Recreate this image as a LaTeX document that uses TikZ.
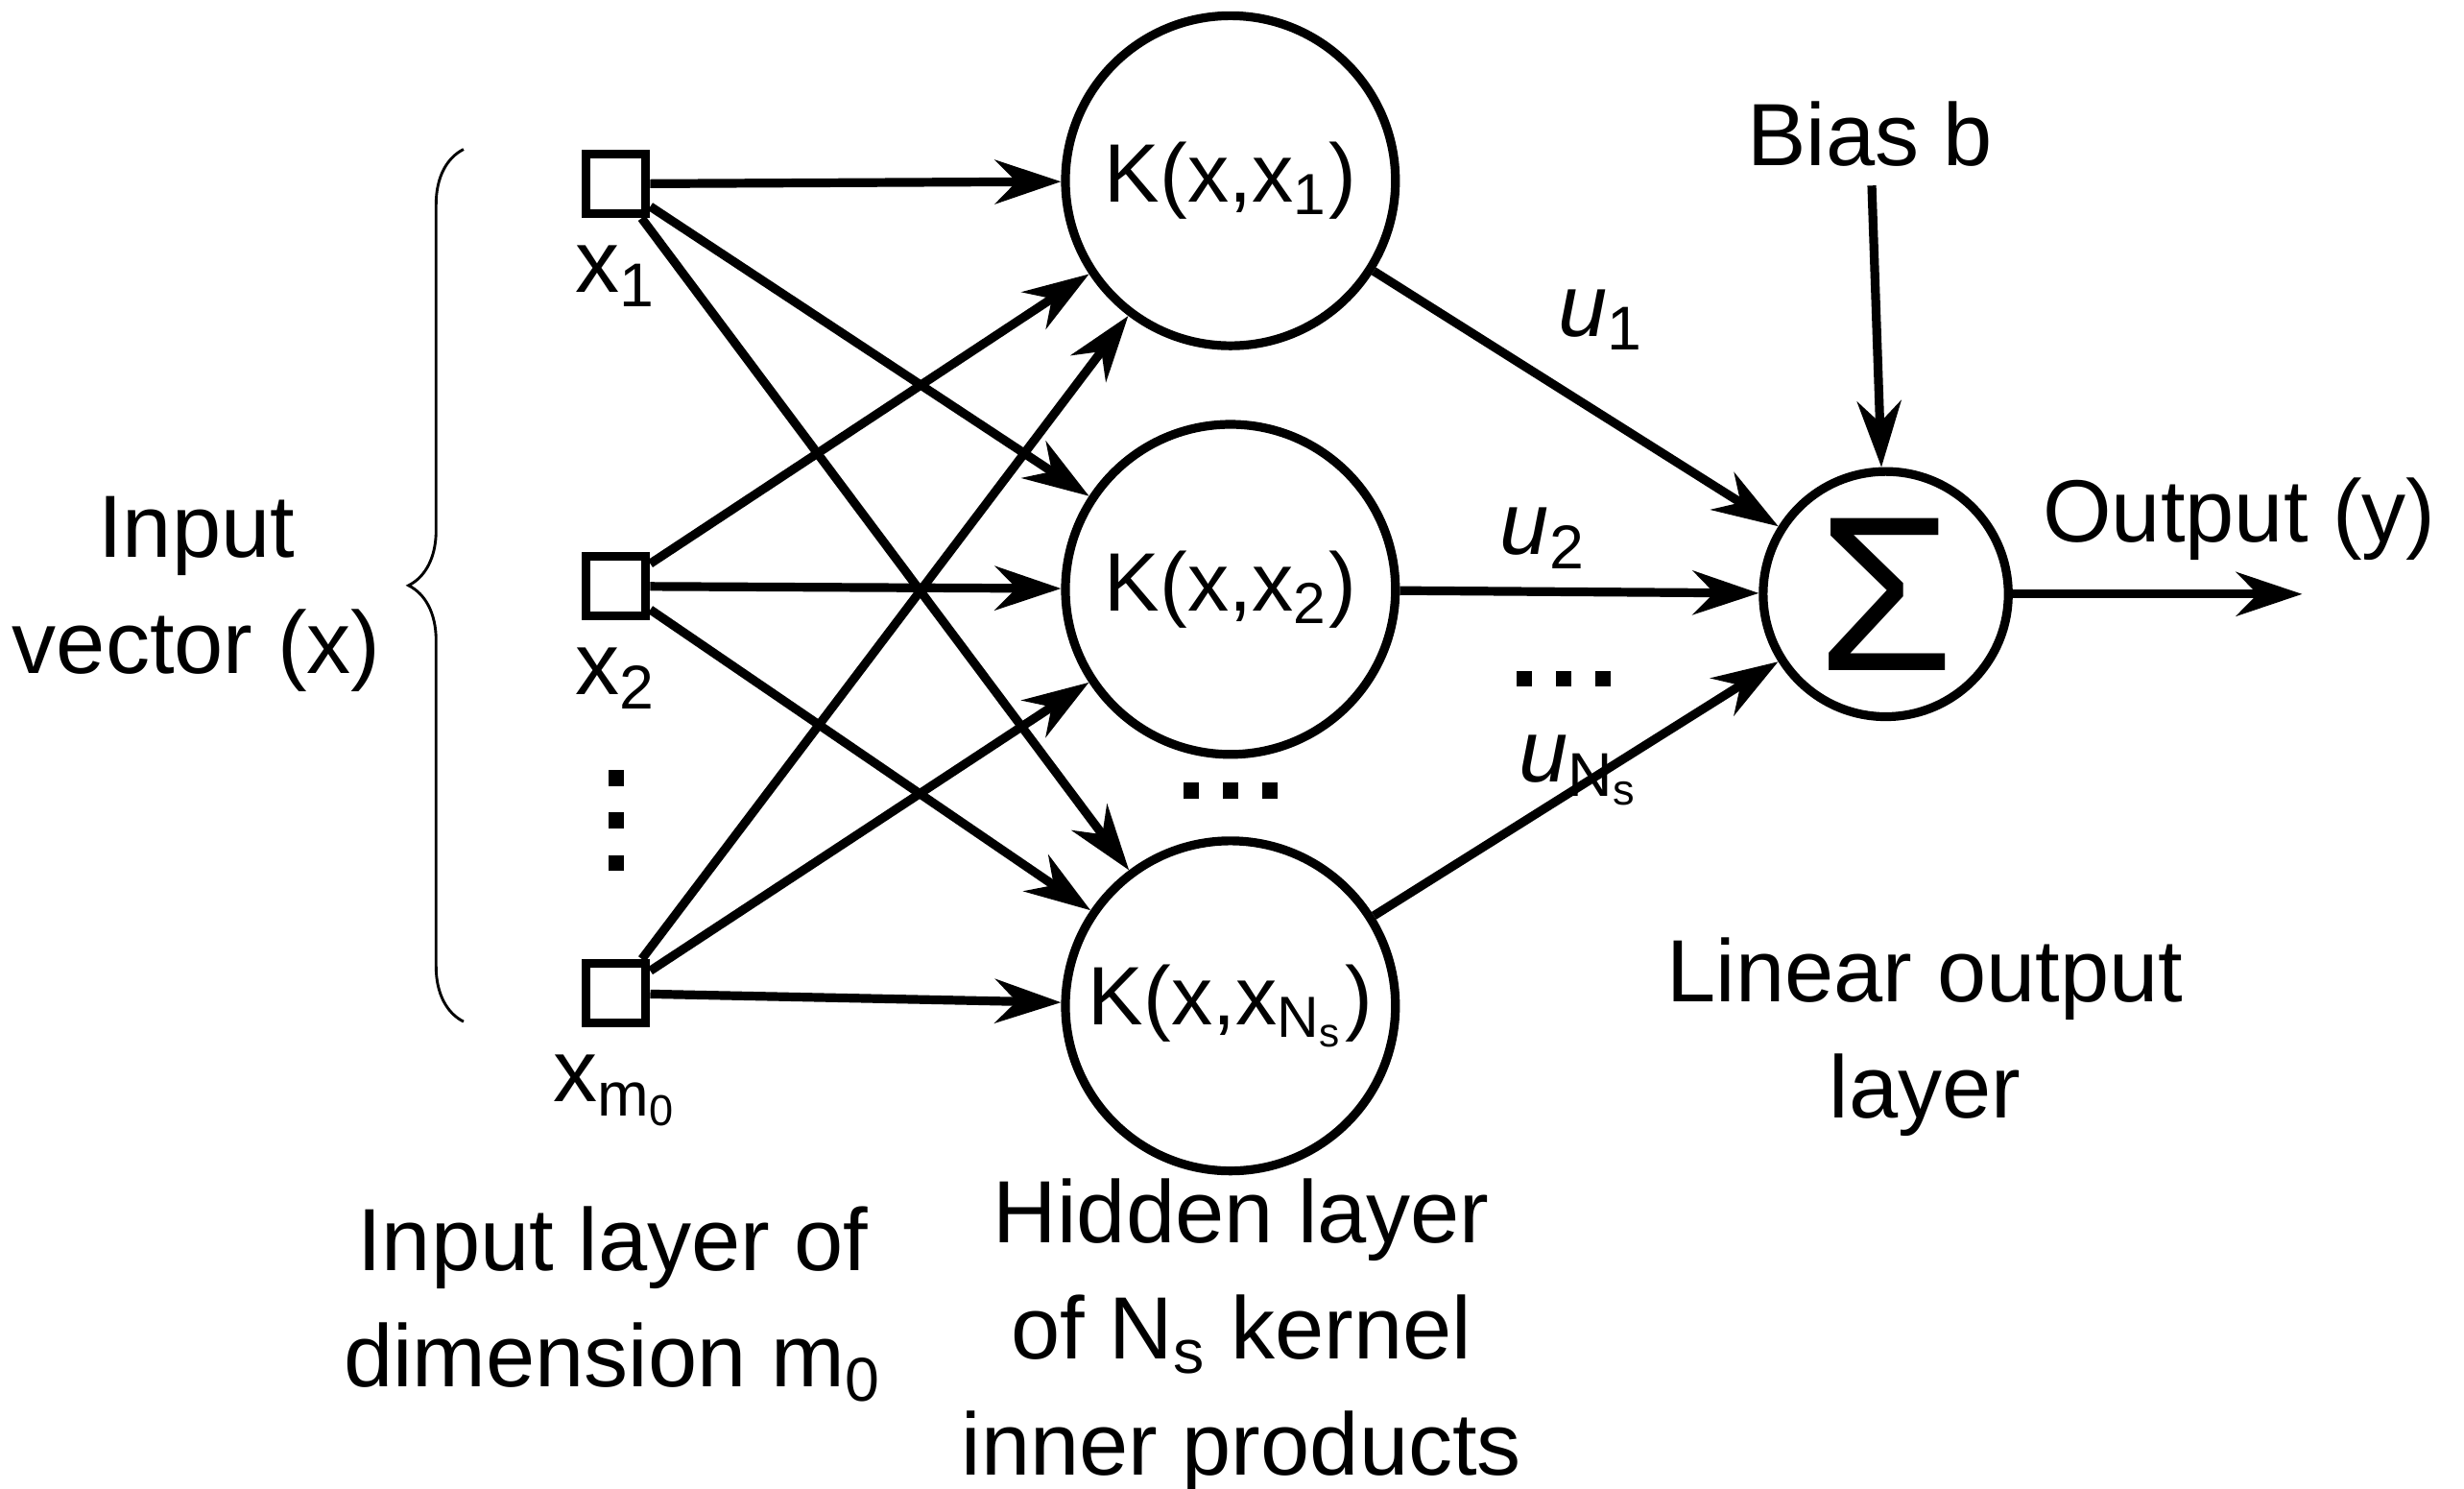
\documentclass[tikz,border=0pt]{standalone}
\usepackage{fontspec}
\setmainfont{Liberation Sans}
\usetikzlibrary{arrows.meta,positioning,decorations.pathreplacing}
\tikzset{%
  >={Stealth[width=2.8mm,length=4.2mm]},
  % Specifications for style of nodes:
  inp/.style = {rectangle, draw=black, line width=1.6pt, minimum size=0.38cm, inner sep=0pt},
  kern/.style = {circle, draw=black, line width=1.6pt, minimum size=2.1cm, inner sep=0pt,
    font=\fontsize{15}{18}\selectfont},
  sumnode/.style = {circle, draw=black, line width=1.6pt, minimum size=1.56cm, inner sep=0pt},
  lbl/.style = {font=\fontsize{16}{21}\selectfont, align=center},
  wire/.style = {->, line width=1.6pt},
  dot/.style = {fill=black, minimum size=0.1cm, inner sep=0pt},
}
\begin{document}
\begin{tikzpicture}
  \useasboundingbox (0,0) rectangle (15.68,-9.47);
  % Input layer
  \node(X1)[inp] at (3.92,-1.17){};
  \node(X2)[inp] at (3.92,-3.73){};
  \node(Xm)[inp] at (3.92,-6.32){};
  \node[lbl,below=0.05cm of X1]{x\textsubscript{1}};
  \node[lbl,below=0.05cm of X2]{x\textsubscript{2}};
  \node[lbl,below=0.05cm of Xm]{x\textsubscript{m\textsubscript{0}}};
  \foreach \y in {-4.95,-5.22,-5.49}
    \node[dot] at (3.92,\y){};
  % Hidden layer
  \node(K1)[kern] at (7.83,-1.15){K(x,x\textsubscript{1})};
  \node(K2)[kern] at (7.83,-3.75){K(x,x\textsubscript{2})};
  \node(KN)[kern] at (7.83,-6.4){K(x,x\textsubscript{N\textsubscript{s}})};
  \foreach \x in {7.58,7.83,8.08}
    \node[dot] at (\x,-5.03){};
  % Output
  \node(S)[sumnode] at (12.0,-3.78){\fontsize{40}{44}\selectfont Σ};
  \node(B)[lbl] at (11.9,-0.85){Bias b};
  \node(Y)[lbl] at (14.25,-3.3){Output (y)};
  \coordinate(Yend) at (14.65,-3.78);
  \foreach \i in {X1,X2,Xm}
    \foreach \k in {K1,K2,KN}
      \draw[wire](\i) -- (\k);
  \draw[wire](K1) -- node[lbl,above right,pos=0.4]{\textit{u}\textsubscript{1}} (S);
  \draw[wire](K2) -- node[lbl,above,pos=0.4]{\textit{u}\textsubscript{2}} (S);
  \draw[wire](KN) -- (S);
  \foreach \x in {9.7,9.95,10.2}
    \node[dot] at (\x,-4.32){};
  \node[lbl] at (10.05,-4.9){\textit{u}\textsubscript{N\textsubscript{s}}};
  \draw[wire](B) -- (S);
  \draw[wire](S) -- (Yend);
  % Braces and captions
  \draw[decorate,decoration={brace,amplitude=0.35cm},line width=0.5pt]
    (2.95,-6.5) -- (2.95,-0.95);
  \node[lbl] at (1.25,-3.78){Input\\vector (x)};
  \node[lbl] at (3.9,-8.3){Input layer of\\dimension m\textsubscript{0}};
  \node[lbl] at (7.9,-8.5){Hidden layer\\of N\textsubscript{s} kernel\\inner products};
  \node[lbl] at (12.25,-6.6){Linear output\\layer};
\end{tikzpicture}
\end{document}
